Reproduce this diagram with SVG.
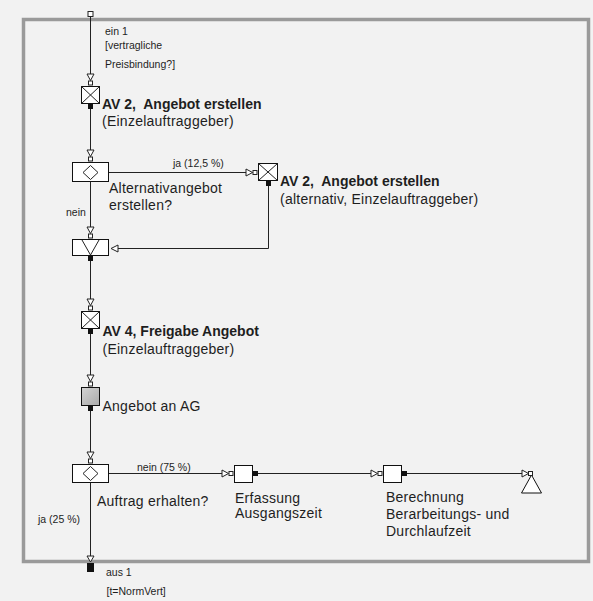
<svg xmlns="http://www.w3.org/2000/svg" width="593" height="601" viewBox="0 0 593 601">
  <style>
    .bg { fill: #f2f2f2; }
    .frame { fill: none; stroke: #9a9a9a; stroke-width: 3.5; }
    .box { fill: #ffffff; stroke: #111; stroke-width: 1; }
    .glyph { fill: none; stroke: #222; stroke-width: 1; }
    .wire { fill: none; stroke: #222; stroke-width: 1; }
    .inTri { fill: #ffffff; stroke: #222; stroke-width: 1; }
    .inSq { fill: #ffffff; stroke: #222; stroke-width: 1; }
    .outSq { fill: #111; }
    text { font-family: "Liberation Sans", Arial, sans-serif; fill: #1e1e1e; }
    .small { font-size: 10.5px; }
    .lbl { font-size: 14px; letter-spacing: 0.25px; }
    .title { font-size: 14px; font-weight: bold; }
  </style>
  <defs>
    <!-- inlet marker for a flow entering from above; origin = top centre of node -->
    <g id="inDown">
      <polygon class="inTri" points="-3.5,-12 3.5,-12 0,-5.5"/>
      <rect class="inSq" x="-2" y="-5" width="4" height="4"/>
    </g>
    <!-- inlet marker for a flow entering from the left; origin = left middle of node -->
    <g id="inRight">
      <polygon class="inTri" points="-12,-3.5 -12,3.5 -5.5,0"/>
      <rect class="inSq" x="-5" y="-2" width="4" height="4"/>
    </g>
    <!-- outlet markers -->
    <rect id="outDown" class="outSq" x="-2.5" y="0" width="5" height="5"/>
    <rect id="outRight" class="outSq" x="0" y="-2.5" width="5" height="5"/>
    <linearGradient id="greyFill" x1="0" y1="0" x2="1" y2="1">
      <stop offset="0" stop-color="#d4d4d4"/>
      <stop offset="1" stop-color="#a9a9a9"/>
    </linearGradient>
  </defs>

  <rect class="bg" x="0" y="0" width="593" height="601"/>
  <rect class="frame" x="23.5" y="19.5" width="565" height="542"/>

  <!-- connectors -->
  <g id="connectors">
    <line class="wire" x1="90.5" y1="17" x2="90.5" y2="74"/>
    <line class="wire" x1="90.5" y1="109" x2="90.5" y2="150"/>
    <line class="wire" x1="109" y1="172.5" x2="246" y2="172.5"/>
    <line class="wire" x1="90.5" y1="182" x2="90.5" y2="227"/>
    <polyline class="wire" points="268.5,185 268.5,248.5 117,248.5"/>
    <line class="wire" x1="90.5" y1="260" x2="90.5" y2="299"/>
    <line class="wire" x1="90.5" y1="334" x2="90.5" y2="375"/>
    <line class="wire" x1="90.5" y1="411" x2="90.5" y2="452"/>
    <line class="wire" x1="109" y1="473.5" x2="222" y2="473.5"/>
    <line class="wire" x1="258" y1="473.5" x2="371" y2="473.5"/>
    <line class="wire" x1="407" y1="473.5" x2="522" y2="473.5"/>
    <line class="wire" x1="90.5" y1="483" x2="90.5" y2="556"/>
    <text class="small" x="173" y="167">ja (12,5 %)</text>
    <text class="small" x="66" y="216">nein</text>
    <text class="small" x="137" y="470.5">nein (75 %)</text>
    <text class="small" x="38" y="523">ja (25 %)</text>
  </g>

  <!-- process entry -->
  <g id="start">
    <rect class="inSq" x="88" y="11.5" width="5" height="5"/>
    <text class="small" x="105" y="35">ein 1</text>
    <text class="small" x="105" y="48.5">[vertragliche</text>
    <text class="small" x="105" y="67.5">Preisbindung?]</text>
  </g>

  <!-- AV 2 create offer -->
  <g id="av2">
    <use href="#inDown" x="90.5" y="86"/>
    <rect class="box" x="81.5" y="86.5" width="18" height="17"/>
    <path class="glyph" d="M81.5,86.5 L99.5,103.5 M99.5,86.5 L81.5,103.5"/>
    <use href="#outDown" x="90.5" y="104"/>
    <text class="title" x="102" y="109">AV 2,&#160; Angebot erstellen</text>
    <text class="lbl" x="102" y="126">(Einzelauftraggeber)</text>
  </g>

  <!-- decision: alternative offer -->
  <g id="decision1">
    <use href="#inDown" x="90.5" y="162"/>
    <rect class="box" x="72.5" y="162.5" width="36" height="19"/>
    <polygon class="glyph" points="90.5,165.5 98,172.5 90.5,179.5 83,172.5"/>
    <text class="lbl" x="109" y="193">Alternativangebot</text>
    <text class="lbl" x="109" y="210">erstellen?</text>
  </g>

  <!-- AV 2 alternative offer -->
  <g id="av2alt">
    <use href="#inRight" x="258" y="172.5"/>
    <rect class="box" x="258.5" y="163.5" width="19" height="17"/>
    <path class="glyph" d="M258.5,163.5 L277.5,180.5 M277.5,163.5 L258.5,180.5"/>
    <use href="#outDown" x="268.5" y="181"/>
    <text class="title" x="280" y="186">AV 2,&#160; Angebot erstellen</text>
    <text class="lbl" x="280" y="204">(alternativ, Einzelauftraggeber)</text>
  </g>

  <!-- merge -->
  <g id="merge">
    <use href="#inDown" x="90.5" y="239"/>
    <rect class="box" x="72.5" y="239.5" width="36" height="16"/>
    <polyline class="glyph" points="82,240 90.5,255 99,240"/>
    <polygon class="inTri" points="118,245 118,252 111,248.5"/>
    <use href="#outDown" x="90.5" y="256"/>
  </g>

  <!-- AV 4 release offer -->
  <g id="av4">
    <use href="#inDown" x="90.5" y="311"/>
    <rect class="box" x="81.5" y="311.5" width="18" height="17"/>
    <path class="glyph" d="M81.5,311.5 L99.5,328.5 M99.5,311.5 L81.5,328.5"/>
    <use href="#outDown" x="90.5" y="329"/>
    <text class="title" x="102.5" y="336">AV 4, Freigabe Angebot</text>
    <text class="lbl" x="102.5" y="354">(Einzelauftraggeber)</text>
  </g>

  <!-- offer sent to client -->
  <g id="angebot">
    <use href="#inDown" x="90.5" y="387"/>
    <rect x="81.5" y="387.5" width="18" height="18" fill="url(#greyFill)" stroke="#111" stroke-width="1"/>
    <use href="#outDown" x="90.5" y="406"/>
    <text class="lbl" x="102.5" y="411">Angebot an AG</text>
  </g>

  <!-- decision: order received -->
  <g id="decision2">
    <use href="#inDown" x="90.5" y="464"/>
    <rect class="box" x="72.5" y="464.5" width="36" height="18"/>
    <polygon class="glyph" points="90.5,466.5 98,473.5 90.5,480.5 83,473.5"/>
    <text class="lbl" x="97" y="506">Auftrag erhalten?</text>
  </g>

  <!-- record exit time -->
  <g id="erfassung">
    <use href="#inRight" x="234" y="473.5"/>
    <rect class="box" x="234.5" y="465.5" width="18" height="17"/>
    <use href="#outRight" x="253" y="473.5"/>
    <text class="lbl" x="235" y="503">Erfassung</text>
    <text class="lbl" x="235" y="518">Ausgangszeit</text>
  </g>

  <!-- compute processing and lead time -->
  <g id="berechnung">
    <use href="#inRight" x="383" y="473.5"/>
    <rect class="box" x="383.5" y="465.5" width="18" height="17"/>
    <use href="#outRight" x="402" y="473.5"/>
    <text class="lbl" x="386" y="502">Berechnung</text>
    <text class="lbl" x="386" y="519">Berarbeitungs- und</text>
    <text class="lbl" x="386" y="536">Durchlaufzeit</text>
  </g>

  <!-- end -->
  <g id="end">
    <polygon class="box" points="531.5,475 541.5,493 521.5,493"/>
    <polygon class="inTri" points="522,470 522,477 528.5,473.5"/>
    <rect class="inSq" x="528.5" y="471.5" width="4" height="4"/>
  </g>

  <!-- process exit -->
  <g id="exit">
    <polygon class="inTri" points="87,556 94,556 90.5,562"/>
    <rect class="outSq" x="87" y="563" width="7" height="9"/>
    <text class="small" x="106" y="576">aus 1</text>
    <text class="small" x="106.5" y="595">[t=NormVert]</text>
  </g>
</svg>
